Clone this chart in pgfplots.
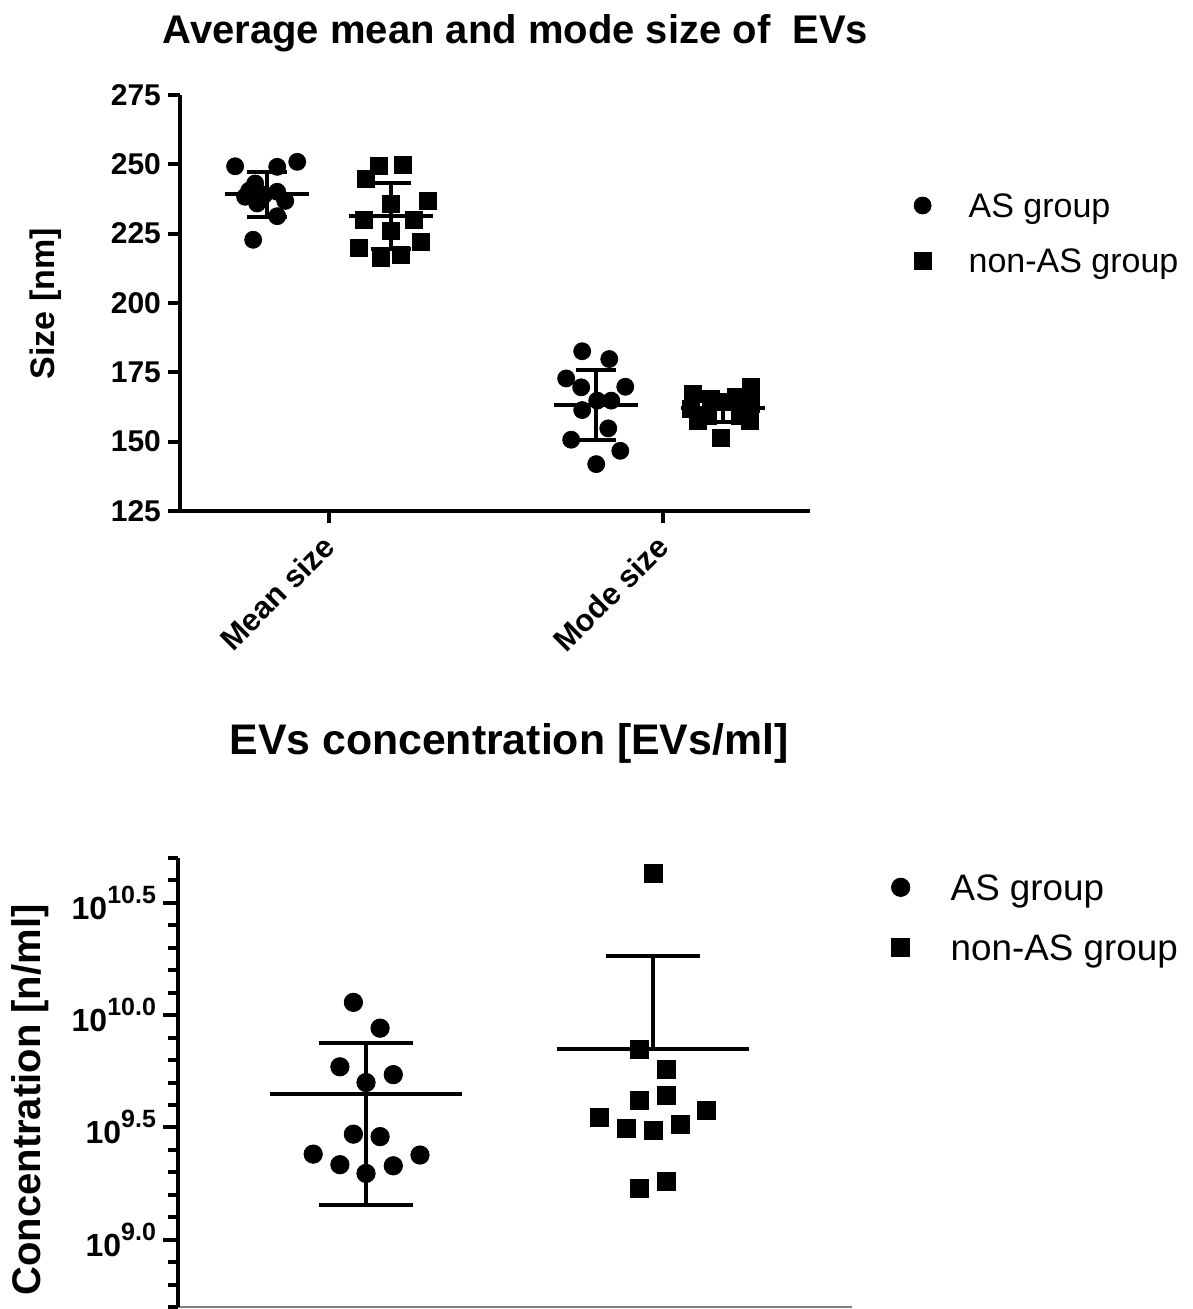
\documentclass[border=0pt]{standalone}
\usepackage{fontspec}
\setmainfont{Liberation Sans}
\usepackage{pgfplots}
\pgfplotsset{compat=1.18}
\pgfplotsset{
  common/.style={
    scale only axis, clip=false,
    tick align=outside,
    tick style={line width=2pt, black},
    major tick length=6pt,
    legend cell align=left,
    /pgf/number format/assume math mode=true,
  },
  bar/.style={black, line width=2pt, forget plot},
  dotleg/.style={legend image code/.code={\draw[##1] plot coordinates {(0pt,0pt)}; \path[draw=none,fill=none] (-4.6pt,0pt) -- (#1,0pt);}},
}

\begin{document}
\begin{tikzpicture}
\useasboundingbox (0,0) rectangle (596pt,-654.5pt);
% ---------------- top panel ----------------
\begin{axis}[common,
  at={(90pt,-255.5pt)}, anchor=south west,
  width=315pt, height=208pt,
  xmin=-0.446, xmax=1.44, ymin=125, ymax=275,
  axis x line*=bottom, axis y line*=left,
  axis line style={line width=2pt, -},
  xtick={0,1}, xticklabels={Mean size, Mode size},
  xticklabel style={xshift=-4pt, rotate=45, anchor=north east, font=\fontsize{15.5}{18}\selectfont\bfseries},
  ytick={125,150,175,200,225,250,275},
  yticklabel style={font=\fontsize{15}{17}\selectfont\bfseries},
  ylabel={Size [nm]},
  ylabel style={at={(axis description cs:-0.2127,0.498)}, anchor=center, rotate=0, font=\fontsize{17}{20}\selectfont\bfseries},
  title={Average mean and mode size of\ \ EVs},
  title style={at={(axis description cs:0.5325,1.096)}, anchor=base, font=\fontsize{20}{24}\selectfont\bfseries},
  legend style={draw=none, fill=none, at={(axis description cs:1.1635,0.769)}, anchor=north west,
    inner sep=0pt, row sep=13.5pt, font=\fontsize{17}{20}\selectfont,
    nodes={inner sep=0pt, text height=13pt, text depth=1pt}},
]
\addplot[only marks, mark=*, mark size=4.25pt, black, dotleg=23pt]
  coordinates {
  (-0.281,249.3) (-0.155,249.1) (-0.095,250.9) (-0.221,243.1) (-0.251,238.3) (-0.215,235.9)
  (-0.155,240.1) (-0.131,236.8) (-0.155,231.3) (-0.227,222.8) (-0.194,239.0) (-0.239,240.5)
  (0.758,182.6) (0.839,179.8) (0.710,172.8) (0.755,169.6) (0.887,169.8) (0.803,164.8)
  (0.845,164.8) (0.758,161.4) (0.836,154.8) (0.725,150.7) (0.872,146.7) (0.800,141.9)
  };
\addlegendentry{AS group}
\addplot[only marks, mark=square*, mark size=4.25pt, black, dotleg=23pt]
  coordinates {
  (0.149,249.3) (0.221,249.7) (0.110,244.9) (0.185,235.9) (0.296,236.8) (0.104,229.8)
  (0.254,229.8) (0.185,226.0) (0.089,219.8) (0.155,216.3) (0.215,217.5) (0.275,222.0)
  (1.264,169.6) (1.090,167.2) (1.144,165.4) (1.219,166.0) (1.264,163.6) (1.084,161.8)
  (1.135,159.3) (1.231,159.3) (1.105,157.5) (1.261,157.5) (1.174,151.5) (1.180,164.2)
  };
\addlegendentry{non-AS group}
% mean and SD, AS mean size
\addplot[bar] coordinates {(-0.311,239.2) (-0.059,239.2)};
\addplot[bar] coordinates {(-0.185,231.1) (-0.185,247.3)};
\addplot[bar] coordinates {(-0.245,247.3) (-0.125,247.3)};
\addplot[bar] coordinates {(-0.245,231.1) (-0.125,231.1)};
% non-AS mean size
\addplot[bar] coordinates {(0.059,231.4) (0.311,231.4)};
\addplot[bar] coordinates {(0.185,219.4) (0.185,243.4)};
\addplot[bar] coordinates {(0.125,243.4) (0.245,243.4)};
\addplot[bar] coordinates {(0.125,219.4) (0.245,219.4)};
% AS mode size
\addplot[bar] coordinates {(0.674,163.3) (0.926,163.3)};
\addplot[bar] coordinates {(0.800,150.6) (0.800,176.0)};
\addplot[bar] coordinates {(0.740,176.0) (0.860,176.0)};
\addplot[bar] coordinates {(0.740,150.6) (0.860,150.6)};
% non-AS mode size
\addplot[bar] coordinates {(1.054,162.0) (1.306,162.0)};
\addplot[bar] coordinates {(1.180,157.2) (1.180,166.8)};
\addplot[bar] coordinates {(1.120,166.8) (1.240,166.8)};
\addplot[bar] coordinates {(1.120,157.2) (1.240,157.2)};
\end{axis}

% ---------------- bottom panel ----------------
\begin{axis}[common,
  at={(89pt,-653.5pt)}, anchor=south west,
  width=337pt, height=224.5pt,
  xmin=-0.655, xmax=1.693, ymin=8.7, ymax=10.7,
  axis x line*=bottom, axis y line*=left,
  x axis line style={line width=0.6pt, gray, -},
  y axis line style={line width=2pt, -},
  xtick=\empty,
  ytick={9,9.5,10,10.5},
  yticklabels={{10\raisebox{8pt}{\fontsize{12.5}{14}\selectfont 9.0}},
               {10\raisebox{8pt}{\fontsize{12.5}{14}\selectfont 9.5}},
               {10\raisebox{8pt}{\fontsize{12.5}{14}\selectfont 10.0}},
               {10\raisebox{8pt}{\fontsize{12.5}{14}\selectfont 10.5}}},
  yticklabel style={font=\fontsize{16}{19}\selectfont\bfseries},
  minor ytick={8.7,8.8,8.9,9.1,9.2,9.3,9.4,9.6,9.7,9.8,9.9,10.1,10.2,10.3,10.4,10.6,10.7},
  major tick length=7.5pt, minor tick length=5pt,
  minor tick style={line width=2pt, black},
  ylabel={Concentration [n/ml]},
  ylabel style={at={(axis description cs:-0.2196,0.461)}, anchor=center, font=\fontsize{20}{24}\selectfont\bfseries},
  title={EVs concentration [EVs/ml]},
  title style={at={(axis description cs:0.491,1.203)}, anchor=base, font=\fontsize{21.4}{25}\selectfont\bfseries},
  legend style={draw=none, fill=none, at={(axis description cs:1.058,0.969)}, anchor=north west,
    inner sep=0pt, row sep=15pt, font=\fontsize{18.4}{22}\selectfont,
    nodes={inner sep=0pt, text height=14pt, text depth=1pt}},
]
\addplot[only marks, mark=*, mark size=4.6pt, black, dotleg=25pt]
  coordinates {
  (-0.044,10.057) (0.049,9.942) (-0.091,9.770) (0.095,9.735) (0.000,9.700) (-0.044,9.470)
  (0.049,9.459) (-0.184,9.381) (-0.091,9.334) (0.000,9.295) (0.095,9.329) (0.188,9.377)
  };
\addlegendentry{AS group}
\addplot[only marks, mark=square*, mark size=4.5pt, black, dotleg=25pt]
  coordinates {
  (1.000,10.633) (0.952,9.849) (1.048,9.760) (0.952,9.619) (1.048,9.641) (0.813,9.545)
  (0.906,9.496) (1.000,9.488) (1.094,9.515) (1.187,9.574) (0.952,9.230) (1.048,9.258)
  };
\addlegendentry{non-AS group}
% AS mean and SD
\addplot[bar] coordinates {(-0.333,9.648) (0.333,9.648)};
\addplot[bar] coordinates {(0,9.154) (0,9.874)};
\addplot[bar] coordinates {(-0.165,9.874) (0.165,9.874)};
\addplot[bar] coordinates {(-0.165,9.154) (0.165,9.154)};
% non-AS mean and SD
\addplot[bar] coordinates {(0.667,9.848) (1.333,9.848)};
\addplot[bar] coordinates {(1,9.848) (1,10.265)};
\addplot[bar] coordinates {(0.835,10.265) (1.165,10.265)};
\end{axis}
\end{tikzpicture}
\end{document}
